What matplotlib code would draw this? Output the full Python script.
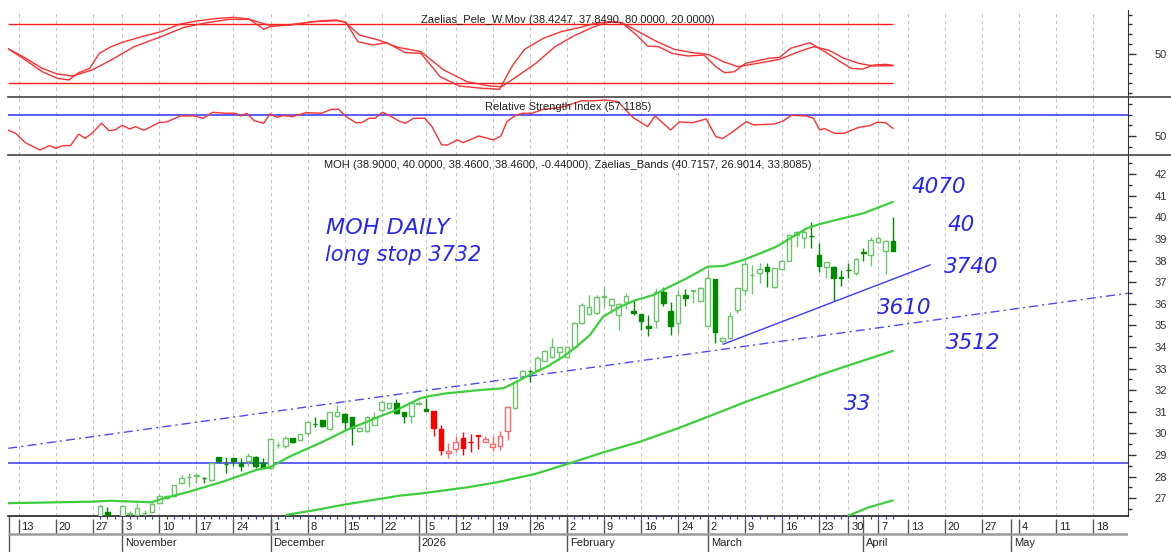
import matplotlib
matplotlib.use("Agg")
import matplotlib.pyplot as plt
from matplotlib.lines import Line2D
from matplotlib.ticker import FixedLocator

plt.rcParams["font.family"] = ["Liberation Sans", "DejaVu Sans"]

W, H = 1171, 552
X_LEFT, X_RIGHT = -12.4, 138.7   # trading-day index at the left / right plot edge

# ---- price data (one candle per trading day, index 0 = first visible bar) ----
opens = [26.10, 26.35, 26.10, 26.10, 26.28, 26.20, 26.30, 26.34, 26.77, 27.00,
         27.08, 27.70, 27.96, 28.03, 27.94, 27.85, 28.90, 28.60, 28.85, 28.65,
         28.74, 28.93, 28.65, 28.39, 29.46, 29.44, 29.78, 29.70, 30.01, 30.45,
         30.60, 30.21, 30.80, 30.90, 30.75, 30.13, 30.09, 30.40, 31.07, 31.17,
         31.40, 30.98, 30.81, 31.38, 31.12, 31.03, 30.19, 29.09, 29.30, 29.77,
         29.60, 29.92, 29.60, 29.36, 29.41, 30.11, 31.16, 32.60, 32.90, 32.94,
         33.37, 33.55, 33.75, 33.56, 34.02, 35.10, 35.53, 35.59, 36.30, 35.95,
         35.49, 36.10, 35.67, 35.53, 34.99, 35.22, 36.54, 35.67, 35.13, 36.41,
         36.60, 36.13, 34.98, 37.14, 34.28, 34.41, 35.72, 36.64, 37.33, 37.42,
         37.72, 36.77, 37.60, 38.00, 39.19, 39.03, 39.15, 38.24, 37.72, 37.72,
         37.22, 37.58, 37.41, 38.39, 38.26, 38.85, 38.45, 38.90]
highs = [26.70, 26.60, 26.15, 26.70, 26.40, 26.80, 26.45, 26.78, 27.15, 27.15,
         27.62, 28.08, 28.19, 28.19, 27.98, 28.65, 28.93, 28.90, 28.88, 28.85,
         29.08, 28.95, 28.85, 29.78, 29.62, 29.86, 29.80, 29.98, 30.55, 30.75,
         30.62, 31.00, 31.30, 30.96, 30.78, 30.30, 30.80, 30.98, 31.50, 31.42,
         31.60, 31.00, 31.43, 31.48, 31.65, 31.05, 30.39, 29.56, 29.88, 30.08,
         29.97, 29.94, 29.88, 29.88, 30.13, 31.26, 32.42, 32.95, 32.94, 33.58,
         33.85, 34.40, 34.02, 34.02, 35.15, 36.05, 36.41, 36.41, 36.83, 36.25,
         36.05, 36.49, 36.21, 35.55, 35.49, 36.72, 36.76, 36.10, 36.64, 36.67,
         36.65, 36.76, 37.57, 37.16, 34.45, 35.64, 36.75, 37.96, 37.80, 37.88,
         37.91, 37.68, 38.05, 39.22, 39.39, 39.50, 39.81, 38.80, 37.95, 37.75,
         37.55, 37.87, 38.12, 38.57, 39.11, 39.16, 38.95, 40.00]
lows = [26.00, 26.10, 25.95, 26.05, 26.15, 26.15, 26.15, 26.30, 26.72, 26.95,
        27.05, 27.68, 27.54, 27.70, 27.70, 27.80, 28.62, 28.19, 28.50, 28.28,
        28.50, 28.39, 28.39, 28.36, 29.31, 29.31, 29.57, 29.68, 29.89, 30.29,
        30.29, 30.18, 30.78, 30.16, 29.47, 30.08, 30.05, 30.38, 31.00, 31.15,
        30.90, 30.50, 30.47, 31.30, 31.04, 29.86, 29.00, 28.85, 29.16, 29.00,
        29.16, 29.30, 29.58, 29.20, 29.25, 29.70, 31.14, 32.55, 32.40, 32.90,
        33.35, 33.50, 33.40, 33.50, 34.00, 35.05, 35.50, 35.55, 35.87, 35.56,
        34.79, 35.75, 35.50, 34.79, 34.51, 34.87, 35.90, 34.56, 34.67, 35.90,
        36.03, 36.10, 34.95, 34.17, 34.20, 34.38, 35.56, 36.41, 36.46, 36.98,
        36.77, 36.75, 37.55, 37.98, 38.65, 38.60, 38.57, 37.49, 37.20, 36.13,
        36.84, 37.20, 37.35, 38.00, 37.77, 38.80, 37.37, 38.46]
closes = [26.66, 26.15, 26.00, 26.66, 26.32, 26.54, 26.31, 26.74, 27.10, 27.10,
          27.59, 27.93, 27.98, 28.07, 27.92, 28.62, 28.70, 28.58, 28.70, 28.47,
          28.97, 28.50, 28.42, 29.75, 29.48, 29.81, 29.59, 29.96, 30.52, 30.43,
          30.36, 30.98, 30.98, 30.55, 30.24, 30.24, 30.77, 30.74, 31.47, 31.40,
          30.94, 30.81, 31.41, 31.40, 31.06, 30.24, 29.22, 29.20, 29.59, 29.33,
          29.58, 29.88, 29.74, 29.50, 29.90, 31.21, 32.40, 32.91, 32.88, 33.48,
          33.83, 33.99, 34.00, 33.99, 35.10, 35.95, 35.87, 36.30, 36.38, 36.21,
          36.00, 36.38, 35.56, 35.22, 34.87, 36.57, 36.03, 34.99, 36.41, 36.26,
          36.62, 36.72, 37.18, 34.71, 34.41, 35.45, 36.72, 37.85, 37.35, 37.60,
          37.54, 37.65, 38.00, 39.19, 39.34, 39.34, 39.13, 37.75, 37.92, 37.21,
          37.20, 37.56, 38.09, 38.37, 38.94, 39.03, 38.91, 38.46]
red_first, red_last = 45, 55          # bars drawn in red

# Zaelias bands (index, price)
band_upper = [(-12.4, 26.77), (-1.0, 26.84), (1.3, 26.88), (7.0, 26.81), (8.1, 26.95),
              (12.1, 27.31), (16.6, 27.77), (21.1, 28.31), (22.9, 28.43), (25.6, 28.93),
              (30.1, 29.62), (33.3, 30.16), (35.5, 30.47), (38.2, 30.85), (40.0, 31.08),
              (41.8, 31.39), (43.2, 31.62), (44.5, 31.73), (46.8, 31.86), (49.0, 31.93),
              (51.3, 32.01), (54.4, 32.09), (55.8, 32.32), (58.0, 32.71), (60.3, 33.09),
              (62.5, 33.55), (64.3, 34.02), (66.1, 34.55), (67.9, 35.41), (70.2, 35.87),
              (72.4, 36.18), (74.7, 36.41), (76.9, 36.80), (79.2, 37.18), (82.0, 37.72),
              (84.1, 37.75), (86.8, 38.03), (89.1, 38.34), (91.3, 38.65), (93.5, 39.11),
              (95.4, 39.50), (97.2, 39.70), (101.2, 40.04), (103.0, 40.19), (107.0, 40.72)]
band_middle = [(25.2, 26.23), (29.2, 26.46), (32.9, 26.70), (40.5, 27.12), (43.3, 27.22),
               (49.5, 27.50), (53.6, 27.74), (58.7, 28.12), (63.4, 28.62), (66.1, 28.92),
               (67.8, 29.11), (72.9, 29.62), (78.0, 30.24), (82.1, 30.78), (87.2, 31.47),
               (95.4, 32.48), (97.2, 32.71), (101.2, 33.17), (107.0, 33.82)]
band_lower = [(101.0, 26.19), (103.5, 26.55), (107.0, 26.90)]

# hand-drawn trend lines (index, price)
trend_long = [(-12.4, 29.31), (138.7, 36.49)]
trend_short = [(84.1, 34.13), (112.0, 37.80)]
support_level = 28.62

# Zaelias_Pele_W.Mov lines (index, value)
pele_fast = [(-12.5, 55.6), (-10.4, 45.4), (-7.8, 31.8), (-5.8, 25.1), (-4.2, 23.4),
             (-2.9, 30.8), (-1.4, 35.2), (-0.1, 50.5), (1.5, 57.3), (3.0, 61.7),
             (5.6, 67.4), (8.2, 72.5), (10.8, 80.3), (13.3, 83.7), (15.9, 86.1),
             (18.0, 87.1), (20.1, 85.4), (22.1, 74.9), (22.9, 77.6), (25.2, 79.3),
             (27.8, 81.7), (29.9, 83.7), (31.9, 84.4), (33.2, 81.7), (34.8, 62.3),
             (36.8, 59.0), (38.7, 61.3), (41.2, 51.2), (43.3, 50.5), (45.9, 26.7),
             (48.5, 17.2), (51.6, 14.9), (53.9, 13.9), (55.7, 38.6), (57.3, 54.6),
             (59.8, 65.7), (62.2, 72.5), (64.8, 76.9), (66.8, 81.0), (68.8, 82.7),
             (70.4, 81.7), (72.4, 69.1), (73.9, 57.9), (75.4, 57.2), (77.2, 50.5),
             (79.3, 47.8), (81.5, 48.8), (83.1, 36.9), (84.3, 30.8), (85.6, 31.8),
             (87.1, 40.3), (90.2, 45.4), (91.7, 46.4), (93.2, 55.6), (95.8, 61.3),
             (97.8, 52.2), (99.9, 42.0), (101.4, 35.2), (102.9, 34.5), (104.4, 38.6),
             (106.0, 39.3), (107.0, 38.4)]
pele_slow = [(-12.5, 55.6), (-10.4, 47.1), (-7.8, 35.2), (-5.8, 29.5), (-3.7, 27.4),
             (-1.1, 33.5), (1.5, 43.7), (4.6, 57.3), (8.2, 67.4), (11.3, 76.9),
             (14.4, 81.7), (17.5, 85.1), (20.1, 85.1), (22.7, 79.3), (25.7, 79.3),
             (28.8, 82.7), (31.9, 83.7), (33.0, 82.7), (35.0, 69.1), (37.6, 64.0),
             (40.2, 56.6), (43.3, 52.2), (46.4, 33.5), (49.5, 21.7), (52.6, 17.2),
             (54.2, 16.6), (56.2, 26.7), (58.8, 40.3), (61.4, 57.3), (64.0, 68.5),
             (66.8, 78.0), (68.8, 82.7), (70.4, 81.7), (73.1, 70.8), (74.9, 63.4),
             (77.5, 54.5), (80.0, 51.1), (82.1, 49.4), (84.1, 42.0), (86.1, 36.9),
             (88.7, 40.3), (91.7, 44.4), (94.3, 52.2), (96.3, 57.3), (98.3, 53.9),
             (100.4, 45.4), (102.4, 40.3), (104.4, 37.6), (106.0, 37.9), (107.0, 37.85)]
pele_levels = [80, 20]

# RSI (index, value)
rsi = [(-12.5, 55.6), (-11.4, 52.5), (-10.1, 43.7), (-8.1, 36.9), (-6.8, 41.0),
       (-6.0, 38.5), (-5.0, 41.0), (-4.0, 41.0), (-2.9, 51.6), (-2.0, 47.8),
       (-1.1, 52.5), (0.2, 61.9), (1.2, 55.0), (2.0, 55.6), (3.0, 60.0),
       (4.0, 56.5), (4.8, 58.7), (5.9, 55.3), (6.9, 58.7), (7.9, 62.4),
       (9.0, 63.1), (10.8, 68.7), (12.8, 68.7), (13.9, 66.5), (15.2, 72.1),
       (17.0, 71.2), (18.3, 71.2), (19.0, 68.7), (19.8, 71.2), (20.8, 64.3),
       (22.1, 61.9), (22.9, 70.6), (23.9, 67.4), (24.7, 69.0), (26.0, 68.1),
       (27.8, 71.8), (29.9, 71.2), (31.2, 74.9), (32.2, 74.9), (33.2, 68.1),
       (34.5, 62.4), (35.3, 62.4), (36.3, 66.5), (37.1, 66.5), (38.1, 72.1),
       (38.9, 69.7), (40.5, 63.4), (41.2, 61.9), (42.3, 66.5), (43.8, 66.5),
       (44.8, 58.7), (46.1, 41.6), (46.9, 41.6), (48.2, 46.3), (49.0, 43.7),
       (51.1, 50.0), (53.1, 46.3), (54.1, 50.0), (54.9, 63.4), (56.0, 69.0),
       (57.0, 71.2), (58.3, 71.2), (59.8, 74.9), (61.4, 75.9), (62.9, 78.0),
       (65.0, 83.0), (66.3, 82.7), (68.1, 83.6), (69.9, 82.1), (71.9, 67.4),
       (73.9, 58.7), (74.9, 68.7), (77.0, 55.6), (78.2, 63.1), (80.0, 62.4),
       (81.8, 65.9), (83.1, 49.4), (84.0, 47.5), (85.1, 52.5), (87.2, 63.4),
       (88.2, 60.3), (91.0, 61.2), (92.2, 64.0), (93.3, 69.3), (95.3, 68.7),
       (96.3, 66.5), (97.1, 55.6), (97.8, 56.8), (99.1, 52.5), (100.4, 52.5),
       (102.4, 58.1), (103.7, 59.3), (104.9, 62.8), (106.0, 62.4), (107.0, 57.1)]
rsi_level = 70

# date axis
week_idx = [-11, -6, -1, 3, 8, 13, 18, 23, 28, 33, 38, 44, 48, 53, 58, 63, 68, 73,
            78, 82, 87, 92, 97, 101, 105, 109, 114, 119, 124, 129, 134]
week_lbl = ["13", "20", "27", "3", "10", "17", "24", "1", "8", "15", "22", "5", "12",
            "19", "26", "2", "9", "16", "24", "2", "9", "16", "23", "30", "7", "13",
            "20", "27", "4", "11", "18"]
month_idx = [3, 23, 43, 63, 82, 103, 123]
month_lbl = ["November", "December", "2026", "February", "March", "April", "May"]

# hand-written notes (text, index, price)
notes = [("4070", 109.5, 41.43), ("40", 114.4, 39.65), ("3740", 113.9, 37.72),
         ("3610", 104.8, 35.80), ("3512", 114.1, 34.18), ("33", 100.4, 31.37)]

GRID = "#c4c4c4"
AXC = "#333333"
HAND = "#2626f0"


def px_axes(fig, top, bottom):
    left_px, right_px = 8.2, 1127.8
    return fig.add_axes([left_px / W, 1 - bottom / H,
                         (right_px - left_px) / W, (bottom - top) / H])


def style_right(ax, major, minor, fmt):
    for s in ("left", "top", "bottom"):
        ax.spines[s].set_visible(False)
    ax.spines["right"].set_color(AXC)
    ax.yaxis.tick_right()
    ax.yaxis.set_major_locator(FixedLocator(major))
    ax.yaxis.set_minor_locator(FixedLocator(minor))
    ax.set_yticklabels([fmt(v) for v in major])
    ax.tick_params(axis="y", which="major", length=6, width=1, colors=AXC,
                   pad=13.5, labelsize=8)
    ax.tick_params(axis="y", which="minor", length=3, width=1, colors=AXC)
    ax.set_xticks([])
    ax.set_xlim(X_LEFT, X_RIGHT)
    for i in week_idx:
        ax.axvline(i, color=GRID, lw=0.8, ls=(0, (3, 3)), zorder=0)


def xy(pts):
    return [p[0] for p in pts], [p[1] for p in pts]


fig = plt.figure(figsize=(W / 100, H / 100), dpi=100)
ax_top = px_axes(fig, 10, 97)
ax_rsi = px_axes(fig, 97, 155)
ax_main = px_axes(fig, 155, 515.7)
ax_dt = px_axes(fig, 515.7, 552)

# --- top panel: Pele W.Mov ---
ax_top.set_ylim(6.07, 94.6)
style_right(ax_top, [50], [10, 20, 30, 40, 60, 70, 80, 90], lambda v: f"{v:d}")
ax_top.hlines(pele_levels, X_LEFT, 107, color="#ff1a1a", lw=1, zorder=2)
ax_top.plot(*xy(pele_slow), color="#ff3030", lw=1, zorder=3)
ax_top.plot(*xy(pele_fast), color="#ff3030", lw=1, zorder=3)

# --- RSI panel ---
ax_rsi.set_ylim(32.2, 86.4)
style_right(ax_rsi, [50], [40, 60, 70, 80], lambda v: f"{v:d}")
ax_rsi.axhline(rsi_level, color="#3030ff", lw=1.1, zorder=2)
ax_rsi.plot(*xy(rsi), color="#ff3030", lw=1, zorder=3)

# --- main panel ---
ax_main.set_ylim(26.19, 42.89)
style_right(ax_main, list(range(27, 43)), [v + 0.5 for v in range(26, 43)],
            lambda v: f"{v:d}")
ax_main.spines["bottom"].set_visible(True)
ax_main.spines["bottom"].set_color("#222222")
ax_main.spines["bottom"].set_linewidth(1.2)

ax_main.axhline(support_level, color="#3535ee", lw=1.1, zorder=2)
ax_main.plot(*xy(trend_long), color="#4a4aff", lw=1, ls=(0, (6.5, 3, 1.5, 3)), zorder=5)
ax_main.plot(*xy(trend_short), color="#3a3aff", lw=1, zorder=5)

for i, (o, h, l, c) in enumerate(zip(opens, highs, lows, closes)):
    up = c >= o
    if red_first <= i <= red_last:
        col = "#ff6464" if up else "#ff0000"
    else:
        col = "#6cc46c" if up else "#008a00"
    ax_main.vlines(i, l, h, color=col, lw=1, zorder=3)
    ax_main.bar(i, max(abs(c - o), 0.02), bottom=min(o, c), width=0.62,
                facecolor="white" if up else col, edgecolor=col, linewidth=1, zorder=4)

for band in (band_upper, band_middle, band_lower):
    ax_main.plot(*xy(band), color="#3ccf3c", lw=1.6, zorder=6, solid_capstyle="round")

ax_main.text(30.5, 39.51, "MOH DAILY", color=HAND, fontsize=16, style="italic",
             family="DejaVu Sans", ha="left", va="center", zorder=7)
ax_main.text(30.4, 38.27, "long stop 3732", color=HAND, fontsize=15, style="italic",
             family="DejaVu Sans", ha="left", va="center", zorder=7)
for txt, xi, yp in notes:
    ax_main.text(xi, yp, txt, color=HAND, fontsize=15.5, style="italic",
                 family="DejaVu Sans", ha="left", va="center", zorder=7)

# --- date rows ---
ax_dt.set_xlim(X_LEFT, X_RIGHT)
ax_dt.set_ylim(36.3, 0)
ax_dt.axis("off")
ax_dt.vlines(range(len(opens)), 0.6, 3.0, color="#3030ff", lw=0.8)
ax_dt.vlines(week_idx, 3.5, 18.5, color="#555555", lw=1)
ax_dt.vlines(month_idx, 3.5, 36.3, color="#555555", lw=1)
ax_dt.vlines([X_LEFT + 0.05], 0, 36.3, color="#555555", lw=1)
ax_dt.hlines(18.5, X_LEFT, X_RIGHT, color="#9a9a9a", lw=1.8)
for i, lbl in zip(week_idx, week_lbl):
    ax_dt.text(i + 0.4, 11, lbl, fontsize=8, color="#222222", ha="left", va="center")
for i, lbl in zip(month_idx, month_lbl):
    ax_dt.text(i + 0.4, 27.5, lbl, fontsize=8, color="#222222", ha="left", va="center")

# panel separators
for yp in (97, 155):
    fig.add_artist(Line2D([8 / W, 1.0], [1 - yp / H] * 2, color="#444444", lw=1.2))

# panel titles
fig.text(568 / W, 1 - 20 / H, "Zaelias_Pele_W.Mov (38.4247, 37.8490, 80.0000, 20.0000)",
         ha="center", va="center", fontsize=8, color="#222222")
fig.text(568 / W, 1 - 106.5 / H, "Relative Strength Index (57.1185)",
         ha="center", va="center", fontsize=8, color="#222222")
fig.text(568 / W, 1 - 165 / H,
         "MOH (38.9000, 40.0000, 38.4600, 38.4600, -0.44000), "
         "Zaelias_Bands (40.7157, 26.9014, 33.8085)",
         ha="center", va="center", fontsize=8, color="#222222")

fig.savefig("out.png", dpi=100, facecolor="white")
